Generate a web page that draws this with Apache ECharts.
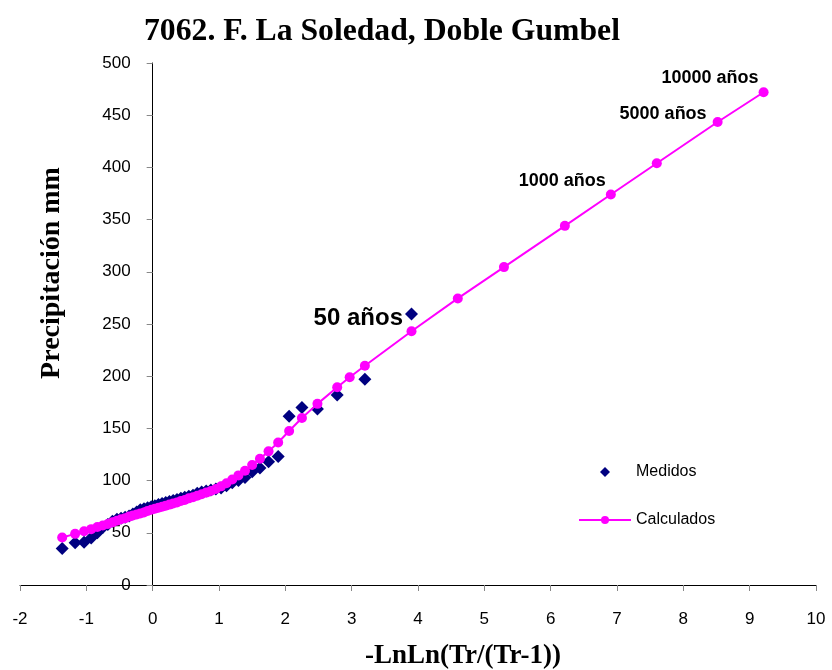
<!DOCTYPE html>
<html>
<head>
<meta charset="utf-8">
<script src="https://cdn.jsdelivr.net/npm/echarts@6/dist/echarts.min.js"></script>
<style>html,body{margin:0;padding:0;background:#fff}#c{width:832px;height:670px}</style>
</head>
<body>
<div id="c"></div>
<script>
// Medidos (ranked measured values) — x = -LnLn(Tr/(Tr-1))
const medidosX = [-1.364,-1.169,-1.034,-0.927,-0.834,-0.752,-0.676,-0.606,-0.539,-0.476,-0.415,-0.356,-0.298,-0.241,-0.186,-0.131,-0.076,-0.021,0.033,0.087,0.142,0.197,0.253,0.309,0.367,0.425,0.484,0.545,0.608,0.672,0.738,0.807,0.878,0.953,1.031,1.113,1.200,1.293,1.392,1.500,1.617,1.747,1.892,2.057,2.250,2.484,2.782,3.199,3.902];
const medidosY = [35,40.5,41,45,50,55,58,61,63,64,65,66,68,70,72,73,74,75,76,77,78,79,80,81,82,83,84,85,86,88,89,90,91,92,93,95,98,100,103,108.5,112,118,123,161.6,170,168.5,182,197,259.6];
// Calculados (Doble Gumbel fit)
const calcX = [-1.364,-1.169,-1.034,-0.927,-0.834,-0.752,-0.676,-0.606,-0.539,-0.476,-0.415,-0.356,-0.298,-0.241,-0.186,-0.131,-0.076,-0.021,0.033,0.087,0.142,0.197,0.253,0.309,0.367,0.425,0.484,0.545,0.608,0.672,0.738,0.807,0.878,0.953,1.031,1.113,1.200,1.293,1.392,1.500,1.617,1.747,1.892,2.057,2.250,2.484,2.782,2.970,3.199,3.902,4.600,5.296,6.214,6.907,7.600,8.517,9.210];
const calcY = [45.5,49,51.5,53.5,55.5,57,58.5,60,61.5,63,64,65.5,66.5,67.5,68.5,69.5,71,72,73,74,75,76,77,78,79,80.5,81.5,83,84,85.5,87,88.5,90,92,94.5,97.5,101,105,109.5,115,121,128,136.5,147.5,160,173.5,189.5,199,210,243,274.5,304.5,344,374,404,443.5,472];
// Return-period annotations: [series, index of point, text]
const notes = [
  {series: 'Medidos', idx: 48, text: '50 años'},
  {series: 'Calculados', idx: 53, text: '1000 años'},
  {series: 'Calculados', idx: 55, text: '5000 años'},
  {series: 'Calculados', idx: 56, text: '10000 años'}
];
const xTicks = {min: -2, max: 10, step: 1};
const yTicks = {min: 0, max: 500, step: 50};

const sans = "'Liberation Sans', Arial, sans-serif";
const serif = "'Liberation Serif', serif";
const noteStyle = {
  '50 años': {fontSize: 24, distance: 2, offset: [0, 4]},
  '1000 años': {fontSize: 18, distance: 0, offset: [0, -14]},
  '5000 años': {fontSize: 18, distance: 6, offset: [0, -8]},
  '10000 años': {fontSize: 18, distance: 0, offset: [0, -14]}
};

function build(xs, ys, name) {
  return xs.map((x, i) => {
    const item = {value: [x, ys[i]]};
    const n = notes.find(o => o.series === name && o.idx === i);
    if (n) {
      const s = noteStyle[n.text];
      item.label = {show: true, position: 'left', formatter: n.text, color: '#000',
        fontWeight: 'bold', fontFamily: sans, fontSize: s.fontSize,
        distance: s.distance, offset: s.offset};
    }
    return item;
  });
}

const gridLeft = 20, gridRight = 16;
const chart = echarts.init(document.getElementById('c'), null, {renderer: 'canvas'});
const plotW = 832 - gridLeft - gridRight;
// y axis sits at x = 0 on the value scale
const yAxisShift = -plotW * (0 - xTicks.min) / (xTicks.max - xTicks.min);

chart.setOption({
  animation: false,
  backgroundColor: '#fff',
  title: {
    text: '7062. F. La Soledad, Doble Gumbel',
    left: 139, top: 11,
    textStyle: {fontFamily: serif, fontWeight: 'bold', fontSize: 31.7, color: '#000'}
  },
  legend: [
    {
      orient: 'vertical', left: 595, top: 459,
      itemWidth: 10, itemHeight: 10,
      textStyle: {fontFamily: sans, fontSize: 16, color: '#000', padding: [0, 0, 0, 21]},
      data: ['Medidos']
    },
    {
      orient: 'vertical', left: 573, top: 507,
      itemWidth: 52, itemHeight: 10,
      textStyle: {fontFamily: sans, fontSize: 16, color: '#000'},
      data: ['Calculados']
    }
  ],
  grid: {left: gridLeft, right: gridRight, top: 63, bottom: 85, containLabel: false, outerBoundsMode: 'none'},
  xAxis: {
    type: 'value', min: xTicks.min, max: xTicks.max, interval: xTicks.step,
    name: '-LnLn(Tr/(Tr-1))', nameLocation: 'middle', nameGap: 58,
    nameTextStyle: {fontFamily: serif, fontWeight: 'bold', fontSize: 27, color: '#000', padding: [0, 0, 0, 90]},
    axisLine: {onZero: true, lineStyle: {color: '#000', width: 1}},
    axisTick: {show: true, length: 6, lineStyle: {color: '#888'}},
    axisLabel: {margin: 26, fontFamily: sans, fontSize: 17, color: '#000'},
    splitLine: {show: false}
  },
  yAxis: {
    type: 'value', min: yTicks.min, max: yTicks.max, interval: yTicks.step,
    position: 'left', offset: yAxisShift,
    name: 'Precipitación mm', nameLocation: 'middle', nameGap: 87,
    nameTextStyle: {fontFamily: serif, fontWeight: 'bold', fontSize: 28, color: '#000', padding: [0, 0, 0, 102]},
    axisLine: {show: true, onZero: false, lineStyle: {color: '#000', width: 1}},
    axisTick: {show: true, length: 6, lineStyle: {color: '#888'}},
    axisLabel: {margin: 22, fontFamily: sans, fontSize: 17, color: '#000'},
    splitLine: {show: false}
  },
  series: [
    {
      name: 'Medidos', type: 'scatter', symbol: 'diamond', symbolSize: 13,
      itemStyle: {color: '#000080', opacity: 1},
      data: build(medidosX, medidosY, 'Medidos'), z: 2
    },
    {
      name: 'Calculados', type: 'line', symbol: 'circle', symbolSize: 10, showAllSymbol: true,
      lineStyle: {color: '#ff00ff', width: 2}, itemStyle: {color: '#ff00ff'},
      data: build(calcX, calcY, 'Calculados'), z: 3
    }
  ]
});
</script>
</body>
</html>
